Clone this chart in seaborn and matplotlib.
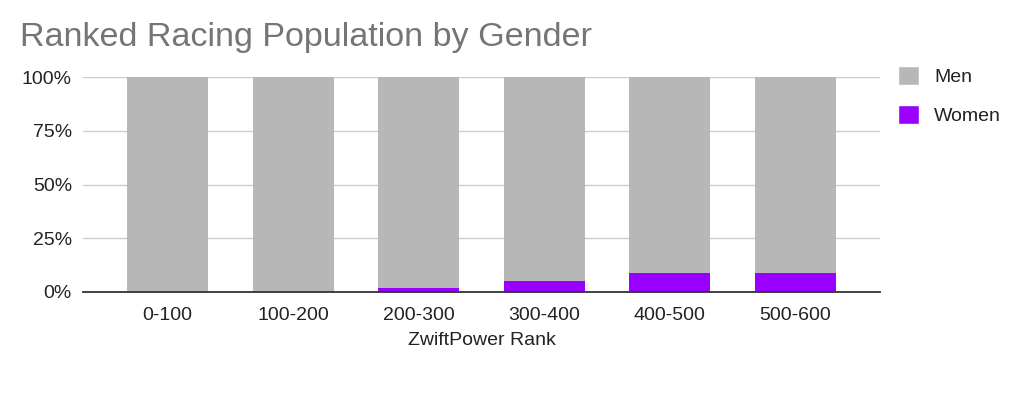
import matplotlib
matplotlib.use("Agg")
import matplotlib.pyplot as plt
import matplotlib.ticker as mticker
from matplotlib.patches import Patch
import pandas as pd
import seaborn as sns

# data (percent of ranked racers)
ranks = ["0-100", "100-200", "200-300", "300-400", "400-500", "500-600"]
women = [0.0, 0.0, 1.9, 5.1, 9.0, 9.0]
men = [100 - w for w in women]

MEN_COLOR = "#b7b7b7"
WOMEN_COLOR = "#9900ff"
TEXT_COLOR = "#222222"

df = pd.DataFrame({"rank": ranks, "men": men, "women": women})
df["total"] = df["men"] + df["women"]

sns.set_theme(style="white")
plt.rcParams["font.family"] = ["Liberation Sans", "DejaVu Sans"]

fig = plt.figure(figsize=(10.24, 3.94), dpi=100)
ax = fig.add_axes([83 / 1024, 1 - 292 / 394, (880 - 83) / 1024, (292 - 77) / 394])

# stacked bars: full height in grey, women drawn over it from the base
sns.barplot(data=df, x="rank", y="total", color=MEN_COLOR, width=0.645,
            saturation=1, ax=ax, zorder=2, linewidth=0)
sns.barplot(data=df, x="rank", y="women", color=WOMEN_COLOR, width=0.645,
            saturation=1, ax=ax, zorder=3, linewidth=0)

ax.set_xlim(-0.673, 5.673)
ax.set_ylim(0, 100)
ax.yaxis.set_major_locator(mticker.MultipleLocator(25))
ax.yaxis.set_major_formatter(mticker.FuncFormatter(lambda v, _: f"{v:.0f}%"))
ax.grid(axis="y", color="#cccccc", linewidth=1, zorder=0)
ax.set_axisbelow(True)

for side in ["top", "right", "left"]:
    ax.spines[side].set_visible(False)
ax.spines["bottom"].set_color("#333333")
ax.spines["bottom"].set_linewidth(1.3)
ax.spines["bottom"].set_zorder(5)

ax.tick_params(axis="both", length=0, labelsize=14, colors=TEXT_COLOR)
ax.tick_params(axis="y", pad=8)
ax.tick_params(axis="x", pad=10.5)
ax.set_ylabel("")
ax.set_xlabel("ZwiftPower Rank", fontsize=14, color=TEXT_COLOR, labelpad=6)

fig.text(20 / 1024, 1 - 46 / 394, "Ranked Racing Population by Gender",
         fontsize=24.6, color="#757575", va="baseline", ha="left")

handles = [Patch(facecolor=MEN_COLOR, label="Men"),
           Patch(facecolor=WOMEN_COLOR, label="Women")]
fig.legend(handles=handles, loc="upper left", bbox_to_anchor=(898 / 1024, 1 - 66 / 394),
           frameon=False, fontsize=14, handlelength=1.1, handleheight=1.1,
           labelspacing=1.0, handletextpad=0.75, labelcolor=TEXT_COLOR,
           borderaxespad=0, borderpad=0)

fig.savefig("out.png", dpi=100)
